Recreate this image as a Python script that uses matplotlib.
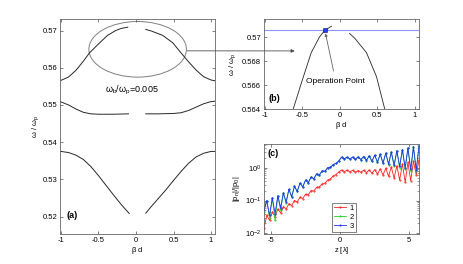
import numpy as np
import matplotlib
matplotlib.use('Agg')
import matplotlib.pyplot as plt
from matplotlib.patches import Ellipse, ConnectionPatch

plt.rcParams['font.family'] = ['Liberation Sans', 'DejaVu Sans']
plt.rcParams['mathtext.fontset'] = 'custom'
plt.rcParams['mathtext.rm'] = 'Liberation Sans'
plt.rcParams['mathtext.it'] = 'Liberation Sans'
plt.rcParams['mathtext.default'] = 'regular'
plt.rcParams['axes.unicode_minus'] = False

# band diagram (panels a and b)
band3_left_x = [-1.05, -1.0, -0.9, -0.8, -0.7, -0.62, -0.51, -0.38, -0.27, -0.2, -0.11]
band3_left_y = [0.5565, 0.5566, 0.5575, 0.5593, 0.5618, 0.5640, 0.5662, 0.5687, 0.5700, 0.57055, 0.5709]
band3_right_x = [0.13, 0.2, 0.356, 0.49, 0.6, 0.7, 0.8, 0.9, 1.0, 1.05]
band3_right_y = [0.5703, 0.5699, 0.5687, 0.5667, 0.5640, 0.5616, 0.5594, 0.5576, 0.5567, 0.5565]

band2_left_x = [-1.05, -1.0, -0.9, -0.8, -0.7, -0.6, -0.5, -0.3, -0.1]
band2_left_y = [0.5510, 0.5508, 0.5500, 0.5489, 0.5480, 0.5476, 0.5475, 0.5475, 0.5476]
band2_right_x = [0.13, 0.3, 0.5, 0.6, 0.7, 0.8, 0.9, 1.0, 1.05]
band2_right_y = [0.5476, 0.5476, 0.5477, 0.5479, 0.5485, 0.5494, 0.5503, 0.5509, 0.5510]

band1_left_x = [-1.05, -1.0, -0.9, -0.8, -0.7, -0.6, -0.5, -0.4, -0.3, -0.2, -0.09]
band1_left_y = [0.5375, 0.5375, 0.5372, 0.5365, 0.5353, 0.5334, 0.5310, 0.5284, 0.5258, 0.5233, 0.5208]
band1_right_x = [0.13, 0.2, 0.3, 0.4, 0.5, 0.6, 0.7, 0.8, 0.9, 1.0, 1.05]
band1_right_y = [0.5209, 0.5226, 0.5249, 0.5272, 0.5297, 0.5321, 0.5343, 0.5360, 0.5370, 0.5375, 0.5375]

op_beta = -0.2
op_omega = 0.57055

# harmonic amplitudes (panel c)
z = [-5.5, -5.3, -5.1, -4.9, -4.7, -4.5, -4.3, -4.1, -3.9, -3.7, -3.5, -3.3, -3.1, -2.9,
     -2.7, -2.5, -2.3, -2.1, -1.9, -1.7, -1.5, -1.3, -1.1, -0.9, -0.7, -0.5, -0.3, -0.1,
     0.1, 0.3, 0.5, 0.7, 0.9, 1.1, 1.3, 1.5, 1.7, 1.9, 2.1, 2.3, 2.5, 2.7, 2.9, 3.1,
     3.3, 3.5, 3.7, 3.9, 4.1, 4.3, 4.5, 4.7, 4.9, 5.1, 5.3, 5.5, 5.7]
p1 = [0.014, 0.035, 0.025, 0.045, 0.032, 0.055, 0.042, 0.065, 0.055, 0.08, 0.07, 0.1, 0.09, 0.125,
      0.115, 0.155, 0.15, 0.2, 0.195, 0.25, 0.26, 0.32, 0.34, 0.42, 0.46, 0.56, 0.62, 0.74,
      0.85, 0.76, 0.84, 0.75, 0.83, 0.74, 0.82, 0.73, 0.84, 0.71, 0.85, 0.68, 0.88, 0.64, 0.92, 0.6,
      0.97, 0.55, 1.05, 0.48, 1.15, 0.42, 1.3, 0.36, 1.45, 0.4, 1.6, 0.6, 1.7]
p2 = [0.045, 0.1, 0.03, 0.12, 0.025, 0.14, 0.05, 0.17, 0.085, 0.22, 0.13, 0.27, 0.19, 0.34,
      0.26, 0.42, 0.35, 0.52, 0.46, 0.65, 0.6, 0.8, 0.78, 1.0, 1.02, 1.25, 1.35, 1.6,
      2.1, 1.85, 2.1, 1.85, 2.1, 1.8, 2.15, 1.78, 2.2, 1.65, 2.3, 1.55, 2.4, 1.45, 2.6, 1.35,
      2.8, 1.25, 3.0, 1.1, 3.3, 1.0, 3.6, 0.9, 4.0, 0.8, 4.3, 0.8, 4.4]
p3 = [0.05, 0.1, 0.035, 0.12, 0.04, 0.14, 0.06, 0.17, 0.09, 0.22, 0.13, 0.27, 0.19, 0.34,
      0.26, 0.42, 0.35, 0.52, 0.46, 0.65, 0.6, 0.8, 0.78, 1.0, 1.02, 1.25, 1.35, 1.6,
      2.1, 1.85, 2.1, 1.85, 2.1, 1.8, 2.15, 1.78, 2.2, 1.7, 2.3, 1.6, 2.4, 1.5, 2.6, 1.4,
      2.8, 1.3, 3.0, 1.2, 3.3, 1.1, 3.6, 1.0, 4.0, 0.9, 4.3, 0.85, 4.5]
harmonic_labels = ['1', '2', '3']
harmonic_colors = ['#ff2020', '#20d020', '#2030ff']

W, H = 463, 264
fig = plt.figure(figsize=(W / 100, H / 100), dpi=100)

def px_axes(left, top, right, bottom):
    return fig.add_axes([left / W, 1 - bottom / H, (right - left) / W, (bottom - top) / H])

ax_a = px_axes(60, 19, 215, 234)
ax_b = px_axes(264, 19, 419, 109)
ax_c = px_axes(264, 144, 419, 234)

fs = 5.5
for ax in (ax_a, ax_b, ax_c):
    ax.tick_params(direction='in', top=True, right=True, labelsize=fs, length=2.5,
                   width=0.5, pad=2, color='0.3')
    ax.tick_params(which='minor', direction='in', top=True, right=True, length=1.5,
                   width=0.4, color='0.3')
    for s in ax.spines.values():
        s.set_linewidth(0.6)
        s.set_color('0.4')

# panel (a)
for bx, by in [(band3_left_x, band3_left_y), (band3_right_x, band3_right_y),
               (band2_left_x, band2_left_y), (band2_right_x, band2_right_y),
               (band1_left_x, band1_left_y), (band1_right_x, band1_right_y)]:
    ax_a.plot(bx, by, color='0.15', lw=0.7)
ax_a.add_patch(Ellipse((0.022, 0.56495), 1.3, 0.01495, fill=False, ec='0.5', lw=0.7))
ax_a.set_xlim(-1.013, 1.053)
ax_a.set_ylim(0.5153, 0.5731)
ax_a.set_xticks([-1, -0.5, 0, 0.5, 1])
ax_a.set_xticklabels(['-1', '-0.5', '0', '0.5', '1'])
ax_a.set_yticks([0.52, 0.53, 0.54, 0.55, 0.56, 0.57])
ax_a.set_yticklabels(['0.52', '0.53', '0.54', '0.55', '0.56', '0.57'])
ax_a.set_xlabel(r'$\beta$ d', fontsize=fs, labelpad=1)
ax_a.set_ylabel(r'$\omega$ / $\omega_p$', fontsize=fs, labelpad=1)
ax_a.text(-0.057, 0.5539, r'$\omega_b/\omega_p$=0.005', fontsize=6.5, ha='center', va='center')
ax_a.text(0.075, 0.088, '(a)', transform=ax_a.transAxes, fontsize=6.5, fontweight='bold',
          ha='center', va='center')

# panel (b)
ax_b.plot(band3_left_x, band3_left_y, color='0.15', lw=0.6)
ax_b.plot(band3_right_x, band3_right_y, color='0.15', lw=0.6)
ax_b.axhline(op_omega, color='#8c96ff', lw=0.8)
ax_b.plot([op_beta], [op_omega], 's', ms=3, mfc='#2040ff', mec='#101060', mew=0.4)
ax_b.annotate('Operation Point', xy=(-0.19, 0.5703), xytext=(-0.053, 0.5663),
              fontsize=6, ha='center', va='center',
              arrowprops=dict(arrowstyle='-|>', color='0.4', lw=0.6, mutation_scale=4,
                              shrinkA=3, shrinkB=0))
ax_b.set_xlim(-1.01, 1.057)
ax_b.set_ylim(0.564, 0.5715)
ax_b.set_xticks([-1, -0.5, 0, 0.5, 1])
ax_b.set_xticklabels(['-1', '-0.5', '0', '0.5', '1'])
ax_b.set_yticks([0.564, 0.566, 0.568, 0.57])
ax_b.set_yticklabels(['0.564', '0.566', '0.568', '0.57'])
ax_b.set_xlabel(r'$\beta$ d', fontsize=fs, labelpad=1)
ax_b.set_ylabel(r'$\omega$ / $\omega_p$', fontsize=fs, labelpad=3)
ax_b.text(0.07, 0.12, '(b)', transform=ax_b.transAxes, fontsize=6.5, fontweight='bold',
          ha='center', va='center')

# zoom arrow from (a) to (b)
arrow = ConnectionPatch(xyA=(0.68, 0.56454), coordsA=ax_a.transData,
                        xyB=(-0.6, 0.56884), coordsB=ax_b.transData,
                        arrowstyle='-|>', color='0.3', lw=0.6, mutation_scale=5)
fig.add_artist(arrow)

# panel (c)
for vals, lab, col in zip([p1, p2, p3], harmonic_labels, harmonic_colors):
    ax_c.semilogy(z, vals, color=col, lw=0.6, marker='.', ms=1.0, label=lab)
ax_c.set_xlim(-5.5, 5.7)
ax_c.set_ylim(0.0095, 5.3)
ax_c.set_xticks([-5, 0, 5])
ax_c.set_xticklabels(['-5', '0', '5'])
ax_c.set_xlabel(r'z [$\lambda$]', fontsize=fs, labelpad=1)
ax_c.set_ylabel(r'|p$_n$|/|p$_0$|', fontsize=fs, labelpad=2)
ax_c.text(0.06, 0.9, '(c)', transform=ax_c.transAxes, fontsize=6.5, fontweight='bold',
          ha='center', va='center')
leg = ax_c.legend(loc='lower left', bbox_to_anchor=(0.437, 0.02), fontsize=fs,
                  frameon=True, fancybox=False, edgecolor='0.3', framealpha=1,
                  handlelength=1.6, handletextpad=0.4, borderpad=0.3, labelspacing=0.2,
                  borderaxespad=0)
leg.get_frame().set_linewidth(0.5)

fig.savefig('out.png', dpi=100)
